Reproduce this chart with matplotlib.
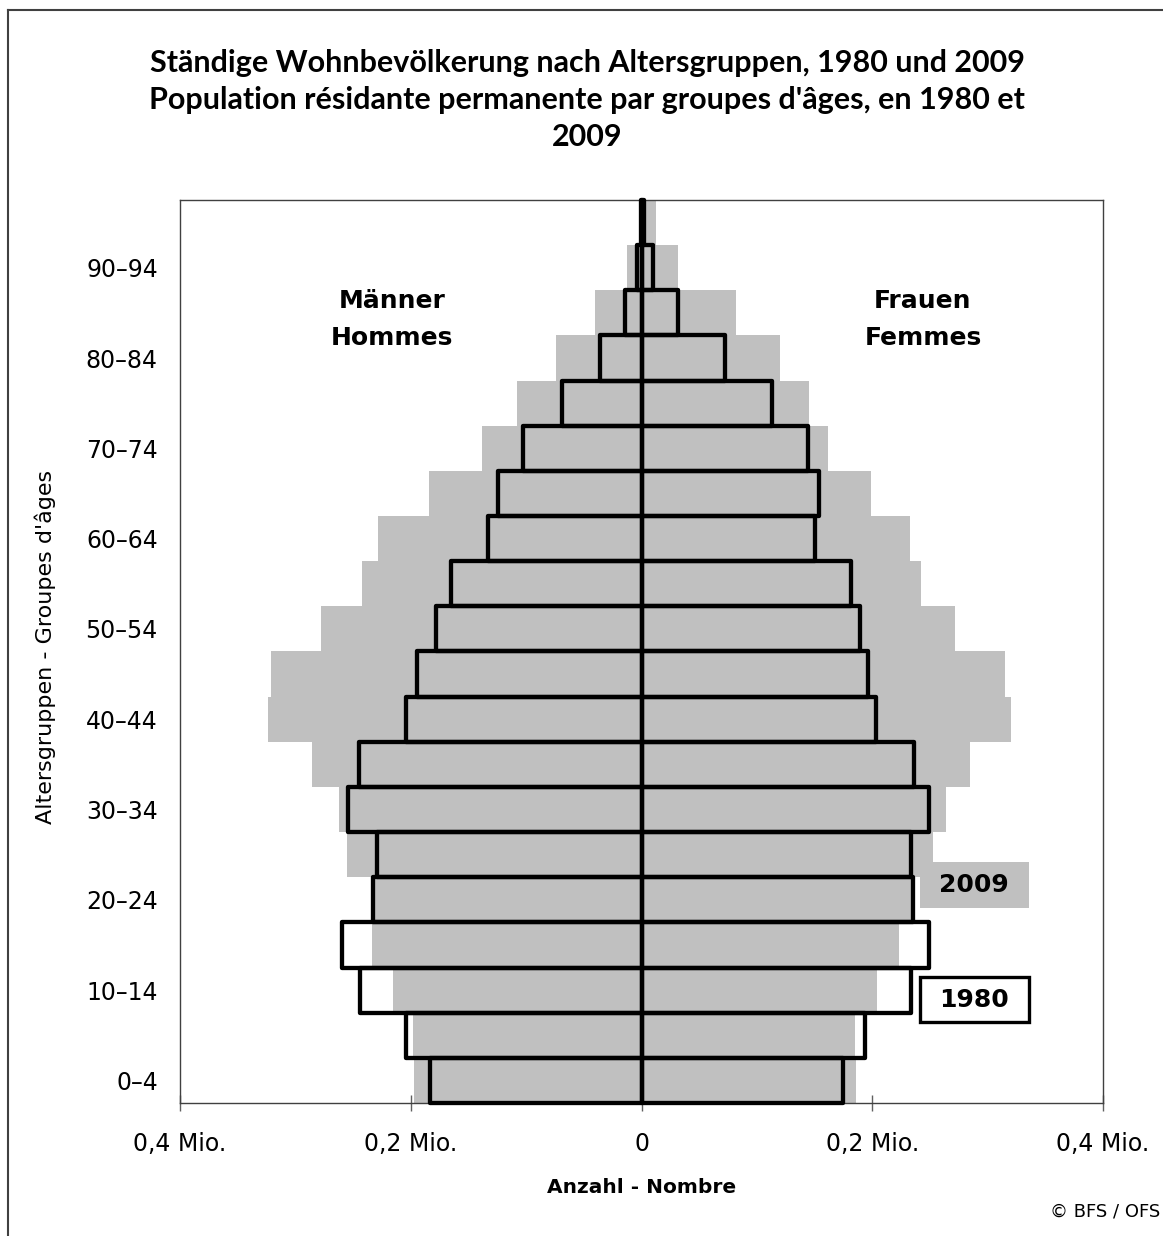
import matplotlib
matplotlib.use("Agg")
import matplotlib.pyplot as plt
from matplotlib.patches import Rectangle
from matplotlib.lines import Line2D
import numpy as np

plt.rcParams['font.family'] = ['DejaVu Sans']

# ---- data (thousands of persons) ----
age_groups = ["0–4", "5–9", "10–14", "15–19", "20–24", "25–29", "30–34", "35–39",
              "40–44", "45–49", "50–54", "55–59", "60–64", "65–69", "70–74",
              "75–79", "80–84", "85–89", "90–94", "95+"]
men_2009 = [197, 198, 215, 234, 233, 255, 262, 286, 324, 321,
            278, 242, 228, 184, 138, 108, 74, 40, 13, 2]
women_2009 = [186, 185, 204, 223, 236, 253, 264, 285, 320, 315,
              272, 242, 233, 199, 162, 145, 120, 82, 32, 13]
men_1980 = [183, 204, 244, 260, 233, 229, 254, 245, 204, 195,
            178, 165, 133, 124, 103, 69, 36, 14, 4, 0.5]
women_1980 = [175, 194, 234, 249, 235, 234, 249, 236, 203, 196,
              189, 182, 150, 154, 144, 113, 72, 32, 10, 2]
x_ticks = [-0.4, -0.2, 0, 0.2, 0.4]
x_tick_labels = ["0,4 Mio.", "0,2 Mio.", "0", "0,2 Mio.", "0,4 Mio."]

W, H = 1163, 1236
fig = plt.figure(figsize=(W / 100, H / 100), dpi=100)
ax = fig.add_axes([180 / W, 1 - 1103 / H, 923 / W, 903 / H])

y = np.arange(len(age_groups))
m09 = -np.array(men_2009) / 1000
w09 = np.array(women_2009) / 1000
m80 = -np.array(men_1980) / 1000
w80 = np.array(women_1980) / 1000

gray = '#c0c0c0'
ax.barh(y, m09, height=1.0, color=gray, linewidth=0, zorder=1)
ax.barh(y, w09, height=1.0, color=gray, linewidth=0, zorder=1)
lw = 3.1
b1 = ax.barh(y, m80, height=1.0, fill=False, edgecolor='black', linewidth=lw, zorder=3)
b2 = ax.barh(y, w80, height=1.0, fill=False, edgecolor='black', linewidth=lw, zorder=3)
for p in list(b1) + list(b2):
    p.set_joinstyle('round')
    p.set_clip_on(False)

ax.set_xlim(-0.4, 0.4)
ax.set_ylim(-0.5, len(age_groups) - 0.5)

ax.set_xticks(x_ticks)
ax.set_xticklabels(x_tick_labels, fontsize=17)
ax.set_yticks(y[::2])
ax.set_yticklabels(age_groups[::2], fontsize=17)
ax.tick_params(axis='x', direction='inout', length=12, width=1, color='#606060', pad=15)
ax.tick_params(axis='y', length=0, pad=16)
for s in ax.spines.values():
    s.set_color('#404040')
    s.set_linewidth(1)

ax.set_xlabel("Anzahl - Nombre", fontsize=14.5, fontweight='bold', labelpad=16)
fig.text(45 / W, 1 - 647 / H, "Altersgruppen - Groupes d'âges", rotation=90,
         fontsize=16, ha='center', va='center')

ax.text(-0.2165, 16.85, "Männer\nHommes", fontsize=18, fontweight='bold',
        ha='center', va='center', linespacing=1.65)
ax.text(0.2439, 16.85, "Frauen\nFemmes", fontsize=18, fontweight='bold',
        ha='center', va='center', linespacing=1.65)

# legend-like boxes
ax.add_patch(Rectangle((0.2413, 3.82), 0.0944, 1.02, facecolor=gray, edgecolor='none',
                       zorder=4, clip_on=False))
ax.text(0.2885, 4.33, "2009", fontsize=18, fontweight='bold', ha='center', va='center', zorder=5)
ax.add_patch(Rectangle((0.2413, 1.305), 0.0944, 0.975, facecolor='white', edgecolor='black',
                       linewidth=2.4, zorder=4, clip_on=False))
ax.text(0.2885, 1.79, "1980", fontsize=18, fontweight='bold', ha='center', va='center', zorder=5)

fig.text(587 / W, 1 - 49 / H,
         "Ständige Wohnbevölkerung nach Altersgruppen, 1980 und 2009\n"
         "Population résidante permanente par groupes d'âges, en 1980 et\n2009",
         ha='center', va='top', fontsize=22, fontweight='bold', linespacing=1.4,
         family=['Liberation Sans Narrow', 'Lato'])

fig.text(1160 / W, 1 - 1212 / H, "© BFS / OFS", ha='right', va='center', fontsize=13)

fig.add_artist(Line2D([8 / W, 8 / W], [0, 1 - 10 / H], color='#404040', linewidth=1.5,
                      transform=fig.transFigure))
fig.add_artist(Line2D([8 / W, 1], [1 - 10 / H, 1 - 10 / H], color='#404040', linewidth=1.5,
                      transform=fig.transFigure))

fig.savefig("out.png", dpi=100)
